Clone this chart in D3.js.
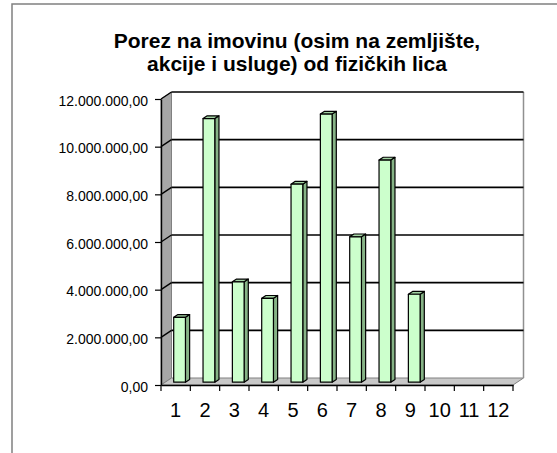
<!DOCTYPE html>
<html>
<head>
<meta charset="utf-8">
<script src="https://cdn.jsdelivr.net/npm/d3@7"></script>
<style>
  body { margin: 0; background: #fff; }
  text { font-family: Arial, "Liberation Sans", sans-serif; }
</style>
</head>
<body>
<script>
/*------ données ------*/
const categories = ["1", "2", "3", "4", "5", "6", "7", "8", "9", "10", "11", "12"];
const values = [2720000, 11060000, 4210000, 3520000, 8310000, 11250000, 6100000, 9320000, 3690000, null, null, null];
const yTicks = [0, 2000000, 4000000, 6000000, 8000000, 10000000, 12000000];
const titleLines = ["Porez na imovinu (osim na zemljište,", "akcije i usluge) od fizičkih lica"];

var width = 557;
var height = 453;

// profondeur du "3D"
var dx = 10.5, dy = -7;
var f0 = 0.4, f1 = 0.8;

var svg = d3.select("body")
    .append("svg")
    .attr("width", width)
    .attr("height", height);

// cadre extérieur (bords droit et bas hors image)
svg.append("rect")
    .attr("x", 12).attr("y", 4)
    .attr("width", 600).attr("height", 500)
    .attr("fill", "none")
    .attr("stroke", "#808080")
    .attr("stroke-width", 1.5);

// titre
svg.append("text")
    .attr("text-anchor", "middle")
    .style("font-size", "21px")
    .style("font-weight", "bold")
    .selectAll("tspan")
    .data(titleLines)
    .enter()
    .append("tspan")
    .attr("x", 297)
    .attr("y", function (d, i) { return 48 + i * 22.5; })
    .text(function (d) { return d; });

var xscale = d3.scaleBand()
    .domain(categories)
    .range([161, 513])
    .padding(0);

var yscale = d3.scaleLinear()
    .domain([0, 12000000])
    .range([385, 99]);

var x0 = xscale.range()[0], x1 = xscale.range()[1];
var yTop = yscale(12000000), yBot = yscale(0);

// paroi gauche
svg.append("path")
    .attr("d", "M" + x0 + "," + yTop + "L" + (x0 + dx) + "," + (yTop + dy) +
        "L" + (x0 + dx) + "," + (yBot + dy) + "L" + x0 + "," + yBot + "Z")
    .attr("fill", "#a6a6a6")
    .attr("stroke", "#808080");

// sol
svg.append("path")
    .attr("d", "M" + x0 + "," + yBot + "L" + (x0 + dx) + "," + (yBot + dy) +
        "L" + (x1 + dx) + "," + (yBot + dy) + "L" + x1 + "," + yBot + "Z")
    .attr("fill", "#c8c8c8")
    .attr("stroke", "#808080");

// paroi du fond, bord droit
svg.append("line")
    .attr("x1", x1 + dx).attr("x2", x1 + dx)
    .attr("y1", yTop + dy).attr("y2", yBot + dy)
    .attr("stroke", "#909090")
    .attr("stroke-width", 1.5);

// quadrillage
var grid = svg.append("g");
grid.selectAll("line.back")
    .data(yTicks.filter(d => d > 0))
    .enter()
    .append("line")
    .attr("x1", x0 + dx).attr("x2", x1 + dx)
    .attr("y1", d => yscale(d) + dy).attr("y2", d => yscale(d) + dy)
    .attr("stroke", "#000")
    .attr("stroke-width", 1.6);
grid.selectAll("line.side")
    .data(yTicks.filter(d => d > 0))
    .enter()
    .append("line")
    .attr("x1", x0).attr("x2", x0 + dx)
    .attr("y1", d => yscale(d)).attr("y2", d => yscale(d) + dy)
    .attr("stroke", "#000")
    .attr("stroke-width", 1.4);

// axe y
var locale = d3.formatLocale({ decimal: ",", thousands: ".", grouping: [3], currency: ["", ""] });
var fmt = locale.format(",.2f");

var y_axis = d3.axisLeft(yscale)
    .tickValues(yTicks)
    .tickFormat(fmt)
    .tickSizeInner(6)
    .tickSizeOuter(0)
    .tickPadding(7);

var gy = svg.append("g")
    .attr("transform", "translate(" + x0 + ",0)")
    .call(y_axis);
gy.select(".domain").attr("stroke", "#000").attr("stroke-width", 1.4);
gy.selectAll(".tick line").attr("stroke", "#000").attr("stroke-width", 1.2);
gy.selectAll(".tick text")
    .style("font-size", "14px")
    .attr("fill", "#000")
    .attr("dy", "0.45em");

// axe x
var x_axis = d3.axisBottom(xscale)
    .tickSize(0)
    .tickPadding(18);

var gx = svg.append("g")
    .attr("transform", "translate(0," + yBot + ")")
    .call(x_axis);
gx.select(".domain").attr("stroke", "#000").attr("stroke-width", 1.4);
gx.selectAll(".tick text")
    .style("font-size", "20px")
    .attr("fill", "#000");

// graduations entre les catégories
var bounds = categories.map(c => xscale(c)).concat([x1]);
gx.selectAll("line.sep")
    .data(bounds)
    .enter()
    .append("line")
    .attr("x1", d => d).attr("x2", d => d)
    .attr("y1", 0).attr("y2", 6)
    .attr("stroke", "#000")
    .attr("stroke-width", 1.2);

// barres
var bw = xscale.bandwidth() * 0.4;
var boff = xscale.bandwidth() * 0.29;
var bars = values.map(function (v, i) { return { c: categories[i], v: v }; })
    .filter(d => d.v != null);

var gb = svg.append("g")
    .attr("stroke", "#000")
    .attr("stroke-width", 1.2)
    .attr("stroke-linejoin", "round");

bars.forEach(function (d) {
    var bx = xscale(d.c) + boff + f0 * dx;
    var by = yscale(d.v) + f0 * dy;
    var base = yscale(0) + f0 * dy;
    var ddx = (f1 - f0) * dx, ddy = (f1 - f0) * dy;
    // côté
    gb.append("path")
        .attr("d", "M" + (bx + bw) + "," + by + "L" + (bx + bw + ddx) + "," + (by + ddy) +
            "L" + (bx + bw + ddx) + "," + (base + ddy) + "L" + (bx + bw) + "," + base + "Z")
        .attr("fill", "#86b386");
    // dessus
    gb.append("path")
        .attr("d", "M" + bx + "," + by + "L" + (bx + ddx) + "," + (by + ddy) +
            "L" + (bx + bw + ddx) + "," + (by + ddy) + "L" + (bx + bw) + "," + by + "Z")
        .attr("fill", "#a3d3a3");
    // face
    gb.append("rect")
        .attr("x", bx).attr("y", by)
        .attr("width", bw).attr("height", base - by)
        .attr("fill", "#ccffcc");
});
</script>
</body>
</html>
